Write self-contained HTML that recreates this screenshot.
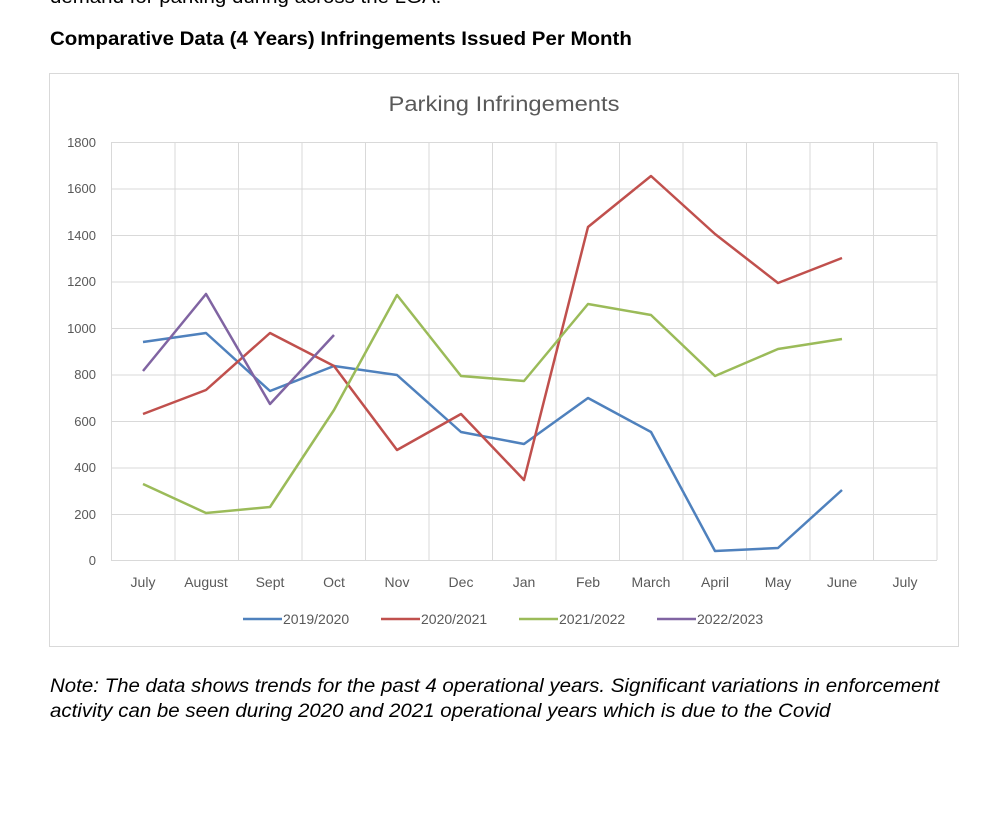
<!DOCTYPE html>
<html><head><style>
body{margin:0;background:#fff;width:1000px;height:822px;overflow:hidden;position:relative;font-family:"Liberation Sans",Arial,sans-serif}
.t{position:absolute;white-space:nowrap;transform-origin:0 0;transform:scaleX(1.077)}
</style></head><body>
<div class="t" style="left:50px;top:-13px;font-size:19px;color:#000">demand for parking during across the LGA.</div>
<div class="t" style="left:50px;top:29px;font-size:19px;font-weight:bold;color:#000">Comparative Data (4 Years) Infringements Issued Per Month</div>
<svg style="position:absolute;left:0;top:0" width="1000" height="822">
<rect x="49.5" y="73.5" width="909" height="573" fill="#fff" stroke="#d9d9d9"/>
<text x="504" y="111" text-anchor="middle" font-family="Liberation Sans,sans-serif" font-size="21" fill="#595959" textLength="231" lengthAdjust="spacingAndGlyphs">Parking Infringements</text>
<g stroke="#d9d9d9" stroke-width="1">
<line x1="111" y1="142.5" x2="937" y2="142.5"/><line x1="111" y1="189" x2="937" y2="189"/><line x1="111" y1="235.5" x2="937" y2="235.5"/><line x1="111" y1="282" x2="937" y2="282"/><line x1="111" y1="328.5" x2="937" y2="328.5"/><line x1="111" y1="375" x2="937" y2="375"/><line x1="111" y1="421.5" x2="937" y2="421.5"/><line x1="111" y1="468" x2="937" y2="468"/><line x1="111" y1="514.5" x2="937" y2="514.5"/><line x1="111" y1="560.5" x2="937" y2="560.5"/>
<line x1="111.5" y1="142" x2="111.5" y2="560"/><line x1="175" y1="142" x2="175" y2="560"/><line x1="238.5" y1="142" x2="238.5" y2="560"/><line x1="302" y1="142" x2="302" y2="560"/><line x1="365.5" y1="142" x2="365.5" y2="560"/><line x1="429" y1="142" x2="429" y2="560"/><line x1="492.5" y1="142" x2="492.5" y2="560"/><line x1="556" y1="142" x2="556" y2="560"/><line x1="619.5" y1="142" x2="619.5" y2="560"/><line x1="683" y1="142" x2="683" y2="560"/><line x1="746.5" y1="142" x2="746.5" y2="560"/><line x1="810" y1="142" x2="810" y2="560"/><line x1="873.5" y1="142" x2="873.5" y2="560"/><line x1="937" y1="142" x2="937" y2="560"/>
</g>
<g font-family="Liberation Sans,sans-serif" font-size="13" fill="#595959" text-anchor="end">
<text x="96" y="147">1800</text><text x="96" y="193">1600</text><text x="96" y="240">1400</text><text x="96" y="286">1200</text><text x="96" y="333">1000</text><text x="96" y="379">800</text><text x="96" y="426">600</text><text x="96" y="472">400</text><text x="96" y="519">200</text><text x="96" y="565">0</text>
</g>
<g font-family="Liberation Sans,sans-serif" font-size="14" fill="#595959" text-anchor="middle">
<text x="143" y="587">July</text><text x="206" y="587">August</text><text x="270" y="587">Sept</text><text x="334" y="587">Oct</text><text x="397" y="587">Nov</text><text x="461" y="587">Dec</text><text x="524" y="587">Jan</text><text x="588" y="587">Feb</text><text x="651" y="587">March</text><text x="715" y="587">April</text><text x="778" y="587">May</text><text x="842" y="587">June</text><text x="905" y="587">July</text>
</g>
<g fill="none" stroke-width="2.5" stroke-linejoin="round">
<polyline stroke="#4f81bd" points="143,342 206,333 270,391 334,366 397,375 461,432 524,444 588,398 651,432 715,551 778,548 842,490"/>
<polyline stroke="#c0504d" points="143,414 206,390 270,333 334,366 397,450 461,414 524,480 588,227 651,176 715,234 778,283 842,258"/>
<polyline stroke="#9bbb59" points="143,484 206,513 270,507 334,410 397,295 461,376 524,381 588,304 651,315 715,376 778,349 842,339"/>
<polyline stroke="#8064a2" points="143,371 206,294 270,404 334,335"/>
</g>
<g stroke-width="2.5">
<line x1="243" y1="619" x2="282" y2="619" stroke="#4f81bd"/>
<line x1="381" y1="619" x2="420" y2="619" stroke="#c0504d"/>
<line x1="519" y1="619" x2="558" y2="619" stroke="#9bbb59"/>
<line x1="657" y1="619" x2="696" y2="619" stroke="#8064a2"/>
</g>
<g font-family="Liberation Sans,sans-serif" font-size="14" fill="#595959">
<text x="283" y="624">2019/2020</text><text x="421" y="624">2020/2021</text><text x="559" y="624">2021/2022</text><text x="697" y="624">2022/2023</text>
</g>
</svg>
<div class="t" style="left:50px;top:674px;font-size:19px;font-style:italic;color:#000;line-height:25px">Note: The data shows trends for the past 4 operational years. Significant variations in enforcement<br>activity can be seen during 2020 and 2021 operational years which is due to the Covid</div>
</body></html>
